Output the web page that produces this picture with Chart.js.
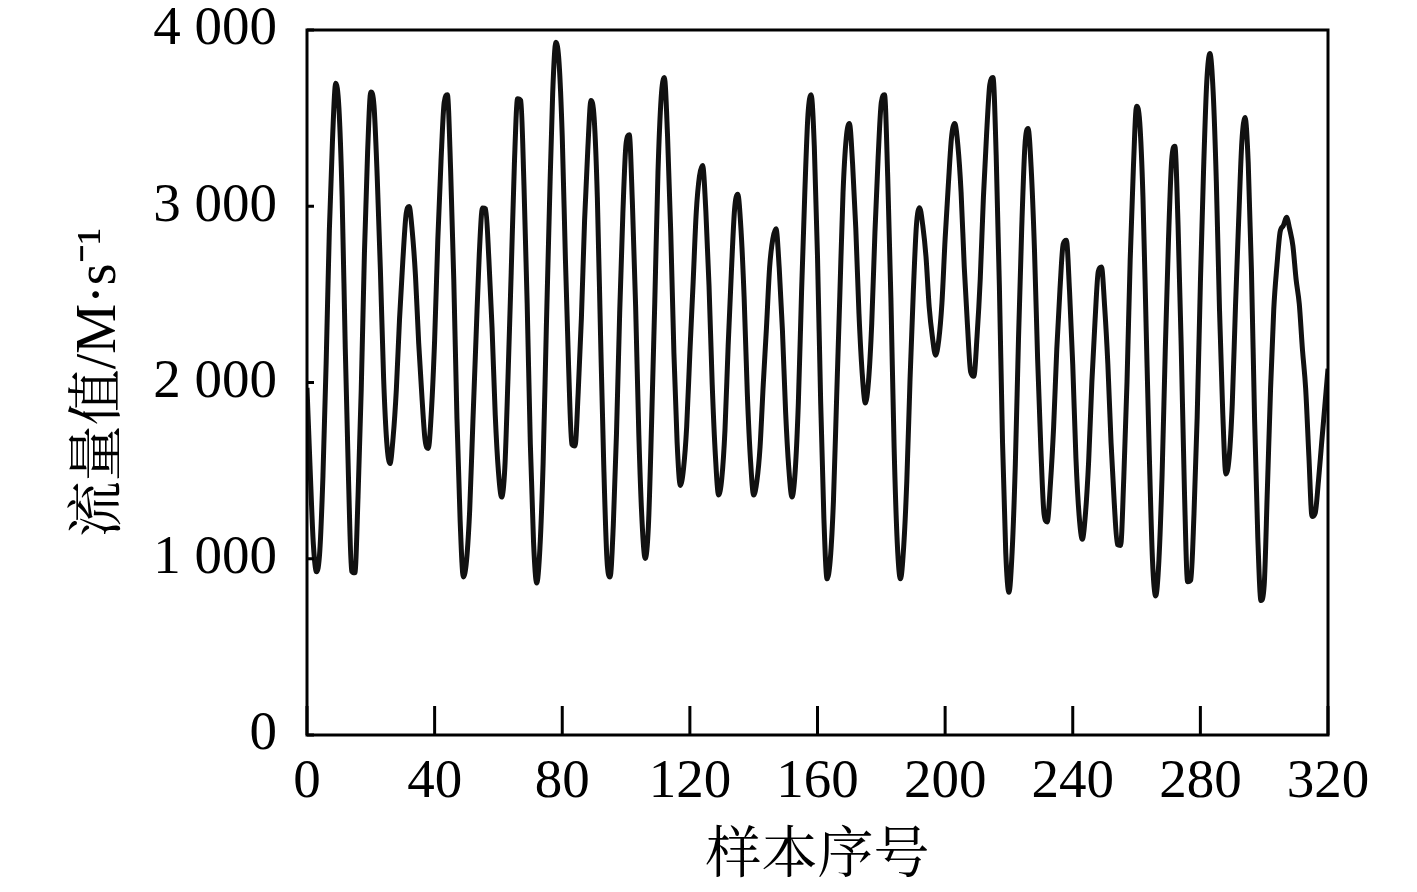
<!DOCTYPE html>
<html>
<head>
<meta charset="utf-8">
<script src="https://cdn.jsdelivr.net/npm/chart.js@4/dist/chart.umd.min.js"></script>
<style>
  html, body { margin: 0; padding: 0; background: #fff; }
  #wrap { width: 1417px; height: 892px; }
</style>
</head>
<body>
<div id="wrap"><canvas id="c" width="1417" height="892"></canvas></div>
<script>
// ---- data ----
const xAxisTitle = '样本序号';
const yAxisTitle = '流量值/M·s⁻¹';
const xTickValues = [0, 40, 80, 120, 160, 200, 240, 280, 320];
const yTickValues = [0, 1000, 2000, 3000, 4000];
const yTickLabels = ['0', '1 000', '2 000', '3 000', '4 000'];

// traffic value per sample (sample index 0..320)
const flowValues = [
  1970, 1500, 1080, 926, 1040, 1470, 2110, 2860, 3380, 3698,
  3560, 3055, 2190, 1460, 930, 920, 1355, 1960, 2735, 3310,
  3648, 3570, 3170, 2640, 2030, 1660, 1540, 1690, 1960, 2360,
  2680, 2945, 2998, 2855, 2605, 2225, 1925, 1675, 1626, 1840,
  2240, 2810, 3255, 3590, 3633, 3215, 2585, 1795, 1215, 897,
  990, 1280, 1780, 2265, 2730, 2990, 2985, 2700, 2310, 1815,
  1495, 1350, 1515, 2030, 2625, 3240, 3610, 3600, 3120, 2450,
  1650, 1095, 862, 1060, 1540, 2300, 3010, 3640, 3931, 3815,
  3395, 2695, 2085, 1650, 1640, 1945, 2365, 2920, 3320, 3600,
  3500, 3050, 2270, 1535, 1000, 897, 1190, 1710, 2395, 2960,
  3355, 3405, 3010, 2430, 1705, 1215, 1002, 1185, 1770, 2455,
  3190, 3615, 3730, 3400, 2855, 2165, 1660, 1416, 1510, 1750,
  2170, 2560, 2965, 3170, 3231, 2975, 2550, 1990, 1585, 1361,
  1455, 1730, 2210, 2625, 2980, 3068, 2875, 2485, 1940, 1560,
  1361, 1440, 1635, 1990, 2310, 2655, 2815, 2872, 2650, 2300,
  1835, 1515, 1350, 1495, 1885, 2510, 3065, 3515, 3633, 3340,
  2715, 1885, 1230, 886, 995, 1330, 1915, 2495, 3075, 3385,
  3470, 3240, 2875, 2390, 2055, 1883, 2010, 2335, 2850, 3275,
  3590, 3633, 3170, 2480, 1640, 1090, 886, 1065, 1445, 2015,
  2500, 2890, 2992, 2890, 2715, 2430, 2260, 2155, 2240, 2450,
  2815, 3120, 3390, 3470, 3345, 3080, 2655, 2325, 2060, 2035,
  2260, 2585, 3050, 3410, 3690, 3730, 3290, 2550, 1655, 1035,
  810, 1040, 1535, 2250, 2870, 3340, 3441, 3205, 2755, 2130,
  1625, 1255, 1209, 1425, 1745, 2190, 2530, 2785, 2807, 2515,
  2100, 1570, 1245, 1111, 1260, 1560, 2005, 2355, 2630, 2655,
  2430, 2105, 1660, 1320, 1080, 1075, 1460, 2000, 2695, 3215,
  3568, 3475, 3055, 2315, 1585, 990, 789, 990, 1475, 2185,
  2805, 3260, 3340, 2895, 2200, 1390, 870, 880, 1255, 1805,
  2560, 3205, 3705, 3866, 3650, 3140, 2410, 1835, 1481, 1570,
  1880, 2430, 2920, 3365, 3503, 3245, 2640, 1785, 1120, 763,
  850, 1395, 1965, 2415, 2665, 2855, 2890, 2937, 2870, 2775,
  2585, 2445, 2185, 1965, 1585, 1240, 1260, 1440, 1655, 1865,
  2078
];

const points = flowValues.map((v, i) => ({ x: i, y: v }));

const serif = '"Liberation Serif", "Noto Serif CJK SC", "Noto Sans CJK SC", serif';

const frameAndTicks = {
  id: 'frameAndTicks',
  afterDatasetsDraw(chart) {
    const { ctx, chartArea, scales } = chart;
    const { left, right, top, bottom } = chartArea;
    ctx.save();
    ctx.strokeStyle = '#000';
    ctx.lineWidth = 3;
    ctx.strokeRect(left, top, right - left, bottom - top);
    ctx.beginPath();
    scales.x.ticks.forEach(t => {
      const px = scales.x.getPixelForValue(t.value);
      ctx.moveTo(px, bottom);
      ctx.lineTo(px, bottom - 29);
    });
    scales.y.ticks.forEach(t => {
      const py = scales.y.getPixelForValue(t.value);
      ctx.moveTo(left, py);
      ctx.lineTo(left + 7, py);
    });
    ctx.stroke();
    ctx.restore();
  }
};

new Chart(document.getElementById('c'), {
  type: 'line',
  data: {
    datasets: [{
      data: points,
      borderColor: '#111',
      borderWidth: 5,
      pointRadius: 0,
      cubicInterpolationMode: 'monotone',
      fill: false
    }]
  },
  options: {
    responsive: false,
    animation: false,
    layout: { padding: { left: 0, top: 30, right: 89, bottom: 0 } },
    plugins: { legend: { display: false }, tooltip: { enabled: false } },
    scales: {
      x: {
        type: 'linear',
        min: 0, max: 320,
        afterBuildTicks: s => { s.ticks = xTickValues.map(v => ({ value: v })); },
        afterFit: s => { s.height = 157; s.paddingLeft = 0; s.paddingRight = 0; },
        grid: { display: false, drawTicks: false },
        border: { display: false },
        ticks: {
          color: '#000',
          padding: 20,
          maxRotation: 0,
          autoSkip: false,
          font: { family: serif, size: 55, lineHeight: 1 },
          callback: v => String(v)
        },
        title: {
          display: true,
          text: xAxisTitle,
          color: '#000',
          padding: { top: 0, bottom: 7 },
          font: { family: serif, size: 56, lineHeight: 1 }
        }
      },
      y: {
        type: 'linear',
        min: 0, max: 4000,
        afterBuildTicks: s => { s.ticks = yTickValues.map(v => ({ value: v })); },
        afterFit: s => { s.width = 307; s.paddingTop = 0; s.paddingBottom = 0; },
        grid: { display: false, drawTicks: false },
        border: { display: false },
        ticks: {
          color: '#000',
          padding: 30,
          autoSkip: false,
          font: { family: serif, size: 55, lineHeight: 1 },
          callback: v => yTickLabels[yTickValues.indexOf(v)]
        },
        title: {
          display: true,
          text: yAxisTitle,
          color: '#000',
          padding: { top: 72, bottom: 0 },
          font: { family: serif, size: 56, lineHeight: 1 }
        }
      }
    }
  },
  plugins: [frameAndTicks]
});
</script>
</body>
</html>
